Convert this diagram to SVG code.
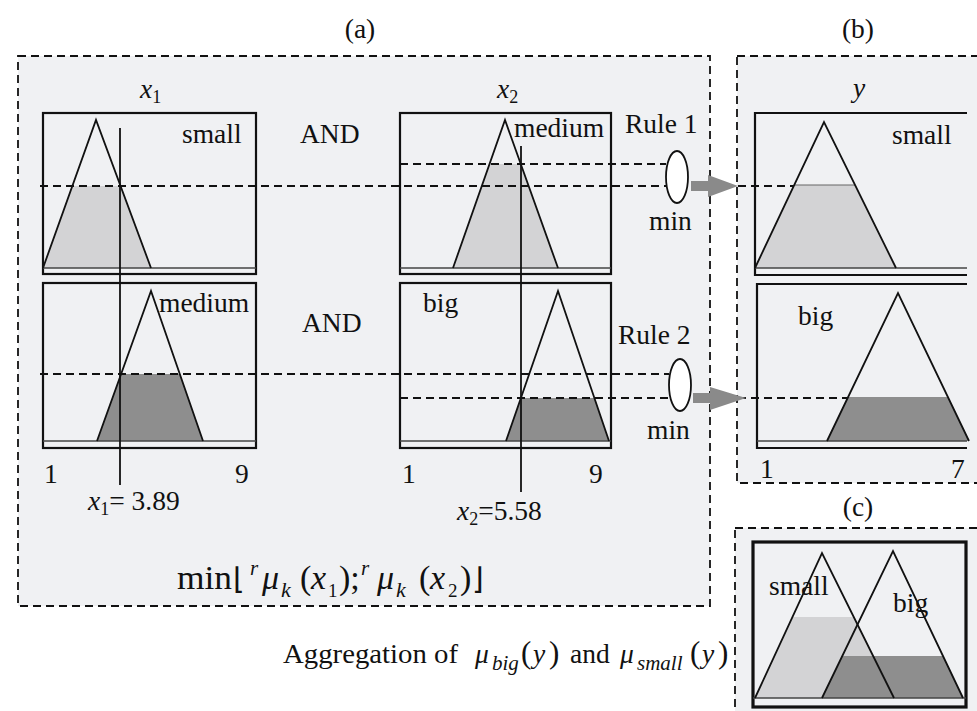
<svg xmlns="http://www.w3.org/2000/svg" width="977" height="711" viewBox="0 0 977 711">
<style>
text{font-family:"Liberation Serif","Times New Roman",serif;fill:#111}
.lbl{font-size:27.5px}
.it{font-style:italic}
.panel{fill:#f0f1f3;stroke:#111;stroke-width:1.8;stroke-dasharray:8 5}
.box{fill:none;stroke:#111;stroke-width:2.2}
.base{stroke:#444;stroke-width:1.4;fill:none}
.tri{fill:none;stroke:#111;stroke-width:1.8;stroke-linejoin:miter}
.light{fill:#d3d3d5}
.dark{fill:#8e8e8e}
.cut{stroke:#666;stroke-width:1.2}
.dash{stroke:#111;stroke-width:1.8;stroke-dasharray:8 5;fill:none}
.vline{stroke:#111;stroke-width:1.8}
.ell{fill:#fff;stroke:#111;stroke-width:1.8}
.arr{fill:#8a8a8a}
</style>
<defs>
<clipPath id="t1"><polygon points="43,268 96,120 151,268"/></clipPath>
<clipPath id="t2"><polygon points="453,268 505,120 558,268"/></clipPath>
<clipPath id="t3"><polygon points="97,441 151,291 203,441"/></clipPath>
<clipPath id="t4"><polygon points="506,441 558,291 609,441"/></clipPath>
<clipPath id="t5"><polygon points="755,268 824,122 896,268"/></clipPath>
<clipPath id="t6"><polygon points="827,441 898,293 969,441"/></clipPath>
<clipPath id="t7"><polygon points="755,698 822,553 894,698"/></clipPath>
<clipPath id="t8"><polygon points="822,698 893,551 963,698"/></clipPath>
</defs>
<rect width="977" height="711" fill="#fff"/>
<g id="panel-a">
<rect class="panel" x="18" y="56" width="692" height="550"/>
</g>
<g id="panel-b">
<rect class="panel" x="737" y="56" width="260" height="427"/>
</g>
<g id="panel-c">
<rect class="panel" x="735" y="528" width="260" height="200"/>
</g>
<text class="lbl" x="360" y="38" text-anchor="middle">(a)</text>
<text class="lbl" x="858" y="38" text-anchor="middle">(b)</text>
<text class="lbl" x="858" y="516" text-anchor="middle">(c)</text>

<g id="x1-small">
<rect class="light" clip-path="url(#t1)" x="40" y="186" width="120" height="82"/>
<rect class="box" x="43" y="113" width="213" height="161"/>
<line class="base" x1="43" y1="268" x2="256" y2="268"/>
<polyline class="tri" points="43,268 96,120 151,268"/>
<text class="lbl" x="182" y="143">small</text>
<text class="lbl it" x="140" y="98">x<tspan font-size="18" dy="5" font-style="normal">1</tspan></text>
</g>
<g id="x2-medium">
<rect class="light" clip-path="url(#t2)" x="450" y="164" width="120" height="104"/>
<rect class="box" x="400" y="113" width="211" height="161"/>
<line class="base" x1="400" y1="268" x2="611" y2="268"/>
<polyline class="tri" points="453,268 505,120 558,268"/>
<text class="lbl" x="514" y="137">medium</text>
<text class="lbl it" x="497" y="98">x<tspan font-size="18" dy="5" font-style="normal">2</tspan></text>
</g>
<g id="x1-medium">
<rect class="dark" clip-path="url(#t3)" x="95" y="374" width="120" height="67"/>
<rect class="box" x="43" y="283" width="213" height="165"/>
<line class="base" x1="43" y1="441" x2="256" y2="441"/>
<polyline class="tri" points="97,441 151,291 203,441"/>
<text class="lbl" x="159" y="312">medium</text>
<text class="lbl" x="44" y="483">1</text>
<text class="lbl" x="235" y="483">9</text>
<text class="lbl" x="88" y="510"><tspan class="it">x</tspan><tspan font-size="18" dy="5">1</tspan><tspan dy="-5">= 3.89</tspan></text>
</g>
<g id="x2-big">
<rect class="dark" clip-path="url(#t4)" x="500" y="398" width="120" height="43"/>
<rect class="box" x="400" y="283" width="211" height="165"/>
<line class="base" x1="400" y1="441" x2="611" y2="441"/>
<polyline class="tri" points="506,441 558,291 609,441"/>
<text class="lbl" x="423" y="312">big</text>
<text class="lbl" x="402" y="483">1</text>
<text class="lbl" x="589" y="483">9</text>
<text class="lbl" x="457" y="520"><tspan class="it">x</tspan><tspan font-size="18" dy="5">2</tspan><tspan dy="-5">=5.58</tspan></text>
</g>
<text class="lbl" x="300" y="143">AND</text>
<text class="lbl" x="302" y="332">AND</text>

<g id="rule1">
<text class="lbl" x="625" y="133">Rule 1</text>
<ellipse class="ell" cx="677" cy="177" rx="11" ry="26"/>
<text class="lbl" x="649" y="230">min</text>
</g>
<g id="rule2">
<text class="lbl" x="618" y="344">Rule 2</text>
<ellipse class="ell" cx="680" cy="385" rx="11" ry="26"/>
<text class="lbl" x="647" y="439">min</text>
</g>

<g id="y-small">
<rect class="light" clip-path="url(#t5)" x="750" y="185" width="160" height="83"/>
<line class="cut" x1="794" y1="185" x2="855" y2="185"/>
<polyline class="box" points="967,113 755,113 755,275 967,275"/>
<line class="base" x1="755" y1="268" x2="967" y2="268"/>
<polyline class="tri" points="755,268 824,122 896,268"/>
<text class="lbl" x="892" y="144">small</text>
<text class="lbl it" x="853" y="97">y</text>
</g>
<g id="y-big">
<rect class="dark" clip-path="url(#t6)" x="820" y="397" width="160" height="44"/>
<polyline class="box" points="967,284 757,284 757,448 967,448"/>
<line class="base" x1="757" y1="441" x2="967" y2="441"/>
<polyline class="tri" points="827,441 898,293 969,441"/>
<text class="lbl" x="798" y="325">big</text>
<text class="lbl" x="760" y="478">1</text>
<text class="lbl" x="951" y="478">7</text>
</g>

<g id="aggregate">
<rect class="light" clip-path="url(#t7)" x="750" y="617" width="160" height="81"/>
<rect class="dark" clip-path="url(#t8)" x="815" y="656" width="160" height="42"/>
<rect x="753" y="542" width="213" height="165" fill="none" stroke="#111" stroke-width="3.2"/>
<line class="base" x1="753" y1="698" x2="966" y2="698"/>
<polyline class="tri" points="755,698 822,553 894,698"/>
<polyline class="tri" points="822,698 893,551 963,698"/>
<text class="lbl" x="769" y="595">small</text>
<text class="lbl" x="893" y="612">big</text>
</g>

<g id="connectors">
<line class="dash" x1="40" y1="186" x2="666" y2="186"/>
<line class="dash" x1="400" y1="164" x2="666" y2="164"/>
<line class="dash" x1="40" y1="374" x2="669" y2="374"/>
<line class="dash" x1="400" y1="398" x2="669" y2="398"/>
<line class="dash" x1="738" y1="186" x2="794" y2="186"/>
<line class="dash" x1="738" y1="398" x2="848" y2="398"/>
<line class="vline" x1="120" y1="128" x2="120" y2="485"/>
<line class="vline" x1="521" y1="146" x2="521" y2="492"/>
<polygon class="arr" points="691,181 708,181 708,175 738,186 708,197 708,191 691,191"/>
<polygon class="arr" points="693,393 710,393 710,387 746,398 710,410 710,403 693,403"/>
</g>

<g id="formula" font-size="34">
<text x="177" y="589" textLength="55" lengthAdjust="spacingAndGlyphs">min</text>
<text x="233" y="589" font-size="30">⌊</text>
<text class="it" x="250" y="575" font-size="21">r</text>
<text class="it" x="262" y="589">μ</text>
<text class="it" x="281" y="597" font-size="22">k</text>
<text x="300" y="589">(</text>
<text class="it" x="311" y="589">x</text>
<text x="328" y="597" font-size="19">1</text>
<text x="339" y="589">);</text>
<text class="it" x="361" y="575" font-size="21">r</text>
<text class="it" x="377" y="589">μ</text>
<text class="it" x="396" y="597" font-size="22">k</text>
<text x="419" y="589">(</text>
<text class="it" x="430" y="589">x</text>
<text x="448" y="597" font-size="19">2</text>
<text x="460" y="589">)</text>
<text x="472" y="589" font-size="30">⌋</text>
</g>

<g id="aggregation-label" font-size="27.5">
<text x="283" y="663" textLength="175" lengthAdjust="spacingAndGlyphs">Aggregation of</text>
<text class="it" x="475" y="663">μ</text>
<text class="it" x="492" y="670" font-size="21">big</text>
<text x="521" y="663" font-size="31">(</text>
<text class="it" x="533" y="663">y</text>
<text x="549" y="663" font-size="31">)</text>
<text x="570" y="663">and</text>
<text class="it" x="620" y="663">μ</text>
<text class="it" x="637" y="670" font-size="21">small</text>
<text x="690" y="663" font-size="31">(</text>
<text class="it" x="702" y="663">y</text>
<text x="718" y="663" font-size="31">)</text>
</g>
</svg>
